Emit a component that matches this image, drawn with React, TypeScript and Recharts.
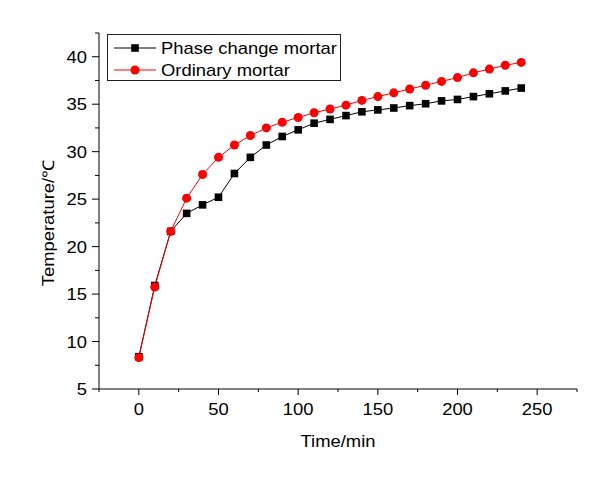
import { Legend, Line, LineChart, XAxis, YAxis } from "recharts";

const FONT = '"Liberation Sans", Arial, sans-serif';
// the reference type is a little wider than Arial at the same height
const STRETCH = 1.15;

const TIME = [0, 10, 20, 30, 40, 50, 60, 70, 80, 90, 100, 110, 120, 130, 140, 150, 160, 170, 180, 190, 200, 210, 220, 230, 240];
const PHASE_CHANGE = [8.4, 15.9, 21.6, 23.5, 24.4, 25.2, 27.7, 29.4, 30.7, 31.6, 32.3, 33.0, 33.4, 33.8, 34.2, 34.4, 34.6, 34.85, 35.05, 35.35, 35.5, 35.8, 36.1, 36.4, 36.7];
const ORDINARY = [8.3, 15.75, 21.6, 25.1, 27.6, 29.4, 30.7, 31.7, 32.5, 33.1, 33.6, 34.1, 34.5, 34.9, 35.4, 35.8, 36.2, 36.6, 37.0, 37.4, 37.8, 38.3, 38.7, 39.1, 39.4];

const X_TICKS = [-25, 0, 25, 50, 75, 100, 125, 150, 175, 200, 225, 250, 275];
const Y_TICKS = [5, 7.5, 10, 12.5, 15, 17.5, 20, 22.5, 25, 27.5, 30, 32.5, 35, 37.5, 40, 42.5];

const SERIES_PHASE = "Phase change mortar";
const SERIES_ORDINARY = "Ordinary mortar";

const data = TIME.map((t, i) => ({ time: t, phase: PHASE_CHANGE[i], ordinary: ORDINARY[i] }));

function Label({ x, y, anchor, children, rotate = 0 }: any) {
  return (
    <text
      transform={`translate(${x},${y}) rotate(${rotate}) scale(${STRETCH},1)`}
      textAnchor={anchor}
      fontSize={16}
      fontFamily={FONT}
      fill="#000"
    >
      {children}
    </text>
  );
}

function XTick({ x, y, payload }: any) {
  const major = payload.value % 50 === 0;
  return (
    <g>
      <line x1={x} x2={x} y1={y} y2={y + (major ? 6 : 3)} stroke="#000" />
      {major && (
        <Label x={x} y={y + 26} anchor="middle">
          {payload.value}
        </Label>
      )}
    </g>
  );
}

function YTick({ x, y, payload }: any) {
  const major = payload.value % 5 === 0;
  return (
    <g>
      <line x1={x - (major ? 7 : 4)} x2={x} y1={y} y2={y} stroke="#000" />
      {major && (
        <Label x={x - 12} y={y + 6} anchor="end">
          {payload.value}
        </Label>
      )}
    </g>
  );
}

function Square({ cx, cy, index }: any) {
  return <rect key={index} x={cx - 3.8} y={cy - 3.8} width={7.6} height={7.6} fill="#000" />;
}

function LegendBox() {
  return (
    <div style={{ border: "1px solid #222", background: "#fff", width: 232, height: 45 }}>
      <svg width={232} height={45} style={{ display: "block" }}>
        <line x1={6} x2={48} y1={13} y2={13} stroke="#000" />
        <rect x={23.2} y={9.2} width={7.6} height={7.6} fill="#000" />
        <Label x={53} y={19} anchor="start">
          {SERIES_PHASE}
        </Label>
        <line x1={6} x2={48} y1={35} y2={35} stroke="#ff0000" />
        <circle cx={27} cy={35} r={4.5} fill="#ff0000" />
        <Label x={53} y={41} anchor="start">
          {SERIES_ORDINARY}
        </Label>
      </svg>
    </div>
  );
}

export default function App() {
  return (
    <div style={{ position: "absolute", left: 0, top: 0, width: 604, height: 481, background: "#fff" }}>
      <LineChart width={604} height={481} data={data} margin={{ top: 33, right: 27, bottom: 0, left: 0 }}>
        <XAxis
          dataKey="time"
          type="number"
          domain={[-25, 275]}
          ticks={X_TICKS}
          interval={0}
          tickLine={false}
          tickSize={0}
          tickMargin={0}
          height={92}
          stroke="#000"
          tick={<XTick />}
          label={({ viewBox }: any) => (
            <Label x={viewBox.x + viewBox.width / 2} y={viewBox.y + 58} anchor="middle">
              Time/min
            </Label>
          )}
        />
        <YAxis
          type="number"
          domain={[5, 42.5]}
          ticks={Y_TICKS}
          interval={0}
          tickLine={false}
          tickSize={0}
          tickMargin={0}
          width={99}
          stroke="#000"
          tick={<YTick />}
          label={({ viewBox }: any) => (
            <Label x={viewBox.x + 54} y={viewBox.y + viewBox.height / 2 + 12} anchor="middle" rotate={-90}>
              Temperature/℃
            </Label>
          )}
        />
        <Legend
          layout="horizontal"
          verticalAlign="middle"
          align="center"
          content={() => <LegendBox />}
          wrapperStyle={{ left: 107, top: 34, width: "auto" }}
        />
        <Line
          dataKey="phase"
          name={SERIES_PHASE}
          stroke="#000"
          strokeWidth={1}
          dot={<Square />}
          isAnimationActive={false}
        />
        <Line
          dataKey="ordinary"
          name={SERIES_ORDINARY}
          stroke="#ff0000"
          strokeWidth={1}
          dot={{ r: 4.5, fill: "#ff0000", stroke: "none" }}
          isAnimationActive={false}
        />
      </LineChart>
    </div>
  );
}
